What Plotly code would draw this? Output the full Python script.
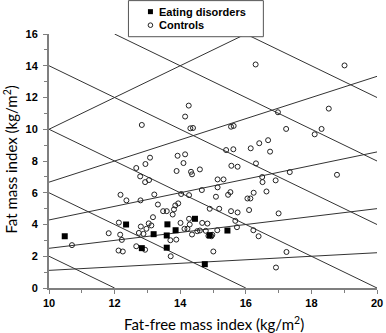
import plotly.graph_objects as go

# ---- data ----
ctrl_ffmi = [16.30, 19.01, 18.53, 16.98, 15.55, 15.63, 17.23, 18.31, 18.10, 15.40,
             15.62, 16.15, 16.41, 16.68, 16.74, 15.56, 15.75, 16.31, 17.34, 18.78,
             15.14, 15.32, 16.50, 16.51, 16.91, 14.26, 14.15, 14.31, 14.39, 12.83,
             13.08, 12.94, 12.66, 12.78, 12.93, 13.05, 13.92, 14.15, 14.10, 13.89,
             14.33, 14.36, 14.60, 12.18, 12.36, 12.79, 13.21, 13.32, 13.48, 13.59,
             13.77, 13.81, 13.85, 13.94, 13.17, 13.04, 13.12, 12.80, 12.74, 12.88,
             12.97, 12.13, 11.82, 12.17, 12.22, 12.12, 12.25, 12.66, 12.93, 10.70,
             13.70, 13.88, 13.71, 14.01, 14.13, 14.22, 14.27, 14.29, 14.36, 14.52,
             14.60, 14.67, 14.83, 14.78, 14.86, 14.95, 14.98, 15.13, 15.01, 14.03,
             14.27, 14.66, 15.09, 15.19, 14.90, 15.14, 15.46, 15.53, 15.55, 15.75,
             15.68, 15.73, 16.23, 16.39, 16.05, 16.14, 16.10, 16.24, 16.63, 17.00,
             17.24, 16.92]
ctrl_fmi = [14.08, 14.02, 11.30, 11.07, 10.16, 10.21, 10.02, 10.02, 9.68, 8.69,
            8.74, 8.80, 9.12, 9.31, 8.59, 7.70, 7.64, 7.85, 7.30, 7.13,
            6.84, 6.84, 6.99, 6.67, 6.78, 11.49, 10.80, 10.06, 10.08, 10.27,
            8.21, 7.81, 7.56, 7.03, 6.67, 6.80, 8.33, 8.42, 7.87, 7.37,
            7.32, 7.16, 7.47, 5.87, 5.52, 5.52, 5.89, 5.26, 4.84, 4.84,
            4.63, 4.95, 5.20, 5.33, 4.46, 4.07, 3.94, 3.87, 3.47, 3.41,
            3.73, 4.12, 3.45, 3.36, 3.03, 2.36, 2.30, 2.63, 2.41, 2.70,
            3.01, 3.05, 2.00, 4.10, 3.73, 3.73, 4.36, 4.00, 3.37, 3.58,
            3.62, 4.10, 4.06, 3.60, 3.28, 3.26, 3.35, 3.64, 2.30, 5.92,
            5.85, 6.17, 5.75, 4.99, 4.99, 6.34, 5.87, 6.04, 4.84, 4.76,
            4.23, 3.83, 3.64, 3.26, 5.64, 5.64, 4.91, 6.00, 6.08, 4.70,
            2.27, 1.29]

ed_ffmi = [10.48, 12.35, 12.83, 13.19, 13.59, 13.61, 13.59, 13.86, 14.45, 15.44, 14.75, 14.90]
ed_fmi = [3.26, 4.00, 2.51, 3.39, 3.31, 4.01, 2.54, 3.64, 4.36, 3.62, 1.50, 3.33]

bmi_levels = [12, 16, 20, 24, 28, 32]          # iso-BMI lines (FMI = BMI - FFMI)
fat_pct_levels = [10, 20, 30, 40, 50]          # iso-%fat lines (FMI = p/(100-p) * FFMI)

legend_labels = ["Eating disorders", "Controls"]
x_ticks = [10, 12, 14, 16, 18, 20]
y_ticks = [0, 2, 4, 6, 8, 10, 12, 14, 16]
XMIN, XMAX, YMIN, YMAX = 10, 20, 0, 16

# ---- layout geometry (pixels) ----
W, H = 386, 333
ML, MR, MT, MB = 48.5, 9.3, 34.3, 45.3
PW, PH = W - ML - MR, H - MT - MB


def px_x(p):
    return (p - ML) / PW


def px_y(p):
    return (H - MB - p) / PH


fig = go.Figure()

line_style = dict(color="#333333", width=1)
for b in bmi_levels:
    x0 = max(XMIN, b - YMAX)
    x1 = min(XMAX, b - YMIN)
    fig.add_trace(go.Scatter(x=[x0, x1], y=[b - x0, b - x1], mode="lines",
                             line=line_style, showlegend=False, hoverinfo="skip"))
for p in fat_pct_levels:
    k = p / (100 - p)
    x0 = XMIN
    x1 = min(XMAX, YMAX / k)
    fig.add_trace(go.Scatter(x=[x0, x1], y=[k * x0, k * x1], mode="lines",
                             line=line_style, showlegend=False, hoverinfo="skip"))

fig.add_trace(go.Scatter(x=ctrl_ffmi, y=ctrl_fmi, mode="markers", name=legend_labels[1],
                         showlegend=False,
                         marker=dict(symbol="circle-open", size=5, color="#222222",
                                     line=dict(width=1, color="#222222"))))
fig.add_trace(go.Scatter(x=ed_ffmi, y=ed_fmi, mode="markers", name=legend_labels[0],
                         showlegend=False,
                         marker=dict(symbol="square", size=6, color="black")))

axis_common = dict(showgrid=False, zeroline=False, showline=True, linecolor="#7f7f7f",
                   linewidth=2, ticks="outside", ticklen=4, tickcolor="#7f7f7f",
                   tickfont=dict(family="Liberation Sans, Arial", size=11, color="black",
                                 weight="bold"),
                   minor=dict(dtick=1, ticks="outside", ticklen=3, tickcolor="#7f7f7f"))

fig.update_xaxes(range=[XMIN, XMAX], tickvals=x_ticks, **axis_common)
fig.update_yaxes(range=[YMIN, YMAX], tickvals=y_ticks, ticklabelstandoff=3, **axis_common)

# ---- manual legend box ----
shapes = [
    dict(type="rect", xref="paper", yref="paper", layer="above",
         x0=px_x(128), x1=px_x(263), y0=px_y(37), y1=px_y(1),
         fillcolor="white", line=dict(color="#555555", width=1)),
    dict(type="rect", xref="paper", yref="paper", layer="above",
         x0=px_x(147.5), x1=px_x(152.5), y0=px_y(14.5), y1=px_y(9.5),
         fillcolor="black", line=dict(color="black", width=0)),
    dict(type="circle", xref="paper", yref="paper", layer="above",
         x0=px_x(147.7), x1=px_x(152.3), y0=px_y(27.8), y1=px_y(23.2),
         fillcolor="white", line=dict(color="#222222", width=1)),
]
legend_font = dict(family="Liberation Sans, Arial", size=11, color="black", weight="bold")
annotations = [
    dict(text=legend_labels[0], xref="paper", yref="paper", x=px_x(157), y=px_y(12),
         xanchor="left", yanchor="middle", showarrow=False, font=legend_font),
    dict(text=legend_labels[1], xref="paper", yref="paper", x=px_x(157), y=px_y(25.5),
         xanchor="left", yanchor="middle", showarrow=False, font=legend_font),
    dict(text="Fat-free mass index (kg/m<sup>2</sup>)", xref="paper", yref="paper",
         x=0.504, y=-0.14, xanchor="center", yanchor="middle", showarrow=False,
         font=dict(family="Lato", size=15, color="black")),
    dict(text="Fat mass index (kg/m<sup>2</sup>)", xref="paper", yref="paper",
         x=-0.117, y=0.504, xanchor="center", yanchor="middle", showarrow=False,
         textangle=-90, font=dict(family="Lato", size=15, color="black")),
]

fig.update_layout(
    width=W, height=H,
    margin=dict(l=ML, r=MR, t=MT, b=MB, autoexpand=False),
    plot_bgcolor="white", paper_bgcolor="white",
    showlegend=False,
    shapes=shapes,
    annotations=annotations,
)

fig.write_html("out.html", config={"displayModeBar": False},
               post_script="document.body.style.margin='0';document.body.style.overflow='hidden';")
